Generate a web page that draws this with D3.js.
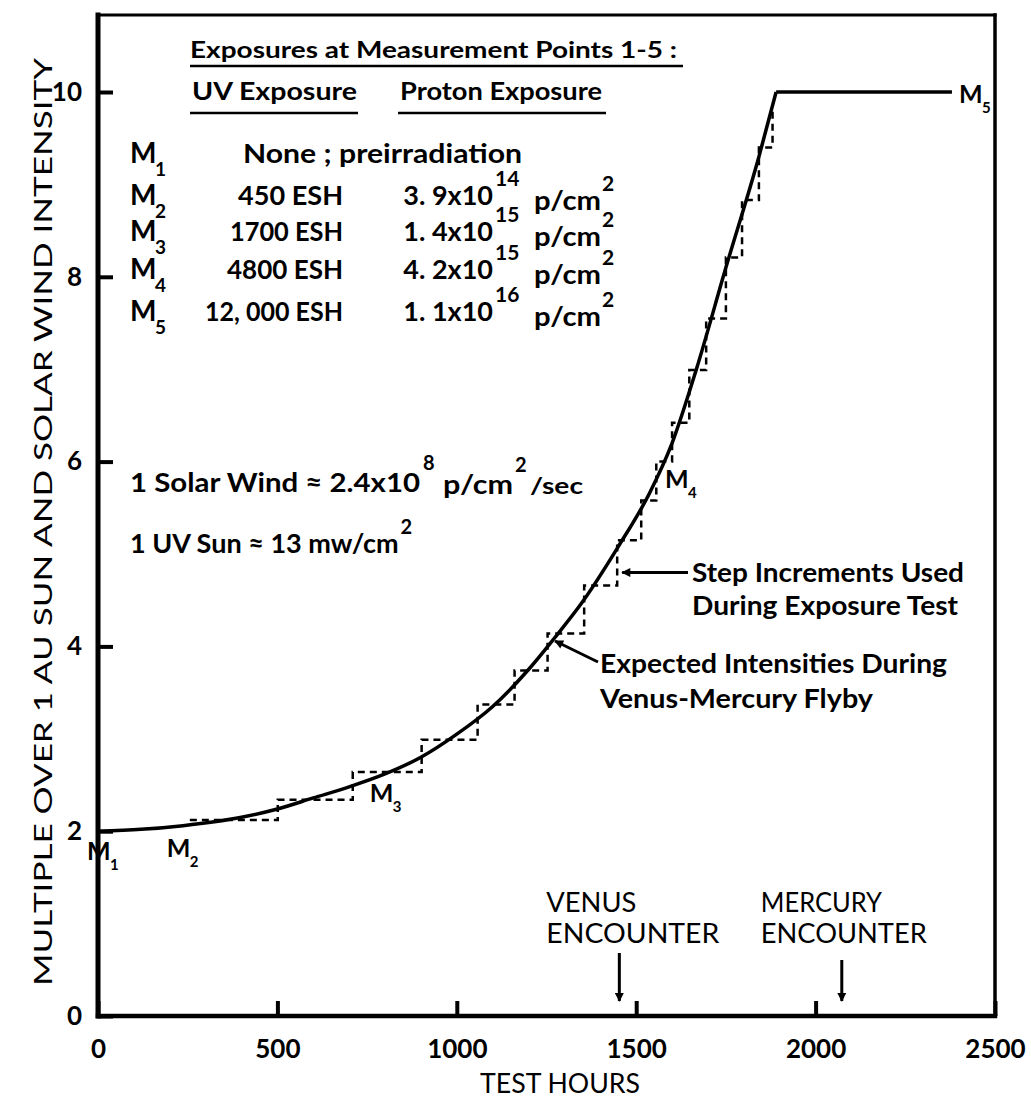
<!DOCTYPE html>
<html>
<head>
<meta charset="utf-8">
<script src="https://cdn.jsdelivr.net/npm/d3@7"></script>
<style>
  body { margin: 0; background: #fff; }
  svg { display: block; }
  text { font-family: Lato, "DejaVu Sans", sans-serif; fill: #000; }
</style>
</head>
<body>
<svg id="chart" width="1031" height="1104"></svg>
<script>
// ---------------- data ----------------
const xTicks = [0, 500, 1000, 1500, 2000, 2500];
const yTicks = [0, 2, 4, 6, 8, 10];

// expected intensity curve (test hours, multiple of 1 AU)
const curveHours  = [0, 120, 237, 400, 500, 600, 700, 800, 900, 1000, 1100, 1200, 1270, 1350, 1450, 1536, 1600, 1667, 1750, 1842, 1890];
const curveValues = [2.0, 2.02, 2.06, 2.15, 2.24, 2.36, 2.48, 2.62, 2.80, 3.05, 3.35, 3.75, 4.08, 4.48, 5.08, 5.65, 6.20, 6.99, 8.10, 9.30, 10.0];
const plateauHours  = [1890, 2380];
const plateauValues = [10.0, 10.0];

// step increments used during exposure test
const stepHours  = [256, 501, 710, 902, 1058, 1161, 1253, 1355, 1447, 1514, 1556, 1600, 1648, 1695, 1750, 1795, 1842, 1880];
const stepValues = [2.12, 2.34, 2.64, 2.99, 3.37, 3.74, 4.14, 4.66, 5.15, 5.58, 6.00, 6.42, 6.99, 7.55, 8.21, 8.83, 9.40, 9.80];

// measurement points
const markIds    = ["1", "2", "3", "4", "5"];
const markHours  = [0, 200, 760, 1580, 2380];
const markValues = [2.0, 2.05, 2.55, 5.95, 10.0];

// encounters
const encounterNames = ["VENUS", "MERCURY"];
const encounterHours = [1453, 2073];

// exposure table
const tableIds       = ["1", "2", "3", "4", "5"];
const tableUV        = ["None ; preirradiation", "450 ESH", "1700 ESH", "4800 ESH", "12, 000 ESH"];
const tableProtonMan = ["", "3. 9x10", "1. 4x10", "4. 2x10", "1. 1x10"];
const tableProtonExp = ["", "14", "15", "15", "16"];

// ---------------- chart ----------------
const svg = d3.select("#chart");
const x = d3.scaleLinear().domain([0, 2500]).range([98, 995]);
const y = d3.scaleLinear().domain([0, 10]).range([1016, 92]);
const yTop = 15;

// arrow marker
const defs = svg.append("defs");
defs.append("marker")
  .attr("id", "arr").attr("viewBox", "0 0 10 10")
  .attr("refX", 9).attr("refY", 5)
  .attr("markerWidth", 13).attr("markerHeight", 9)
  .attr("markerUnits", "userSpaceOnUse")
  .attr("orient", "auto")
  .append("path").attr("d", "M0,0 L10,5 L0,10 Z").attr("fill", "#000");

// axes
const xAxis = d3.axisBottom(x).tickValues(xTicks).tickSize(-15).tickPadding(24).tickFormat(d3.format("d"));
const yAxis = d3.axisLeft(y).tickValues(yTicks).tickSize(-15).tickPadding(16).tickFormat(d3.format("d"));

const gx = svg.append("g").attr("transform", `translate(0,${y(0)})`).call(xAxis);
const gy = svg.append("g").attr("transform", `translate(${x(0)},0)`).call(yAxis);
[gx, gy].forEach(g => {
  g.select(".domain").remove();
  g.selectAll(".tick line").attr("stroke", "#000").attr("stroke-width", 4);
  g.selectAll(".tick text").attr("font-size", 26).attr("font-weight", 700)
    .attr("font-family", "Lato, 'DejaVu Sans', sans-serif").attr("fill", "#000");
});

// frame
const frame = svg.append("g").attr("stroke", "#000").attr("fill", "none").attr("stroke-linecap", "square");
frame.append("line").attr("x1", x(0)).attr("x2", x(0)).attr("y1", yTop).attr("y2", y(0)).attr("stroke-width", 5);
frame.append("line").attr("x1", x(0)).attr("x2", x(2500)).attr("y1", y(0)).attr("y2", y(0)).attr("stroke-width", 4.5);
frame.append("line").attr("x1", x(0)).attr("x2", x(2500)).attr("y1", yTop).attr("y2", yTop).attr("stroke-width", 3);
frame.append("line").attr("x1", x(2500)).attr("x2", x(2500)).attr("y1", yTop).attr("y2", y(0)).attr("stroke-width", 3.5);

// step increments (dashed staircase)
const stepLine = d3.line().x(d => x(d[0])).y(d => y(d[1])).curve(d3.curveStepAfter);
svg.append("path")
  .datum(stepHours.map((h, i) => [h, stepValues[i]]))
  .attr("d", stepLine)
  .attr("fill", "none").attr("stroke", "#000").attr("stroke-width", 2.5)
  .attr("stroke-dasharray", "7 5");

// expected intensity curve
const smooth = d3.line().x(d => x(d[0])).y(d => y(d[1])).curve(d3.curveMonotoneX);
svg.append("path")
  .datum(curveHours.map((h, i) => [h, curveValues[i]]))
  .attr("d", smooth)
  .attr("fill", "none").attr("stroke", "#000").attr("stroke-width", 3.5);
const straight = d3.line().x(d => x(d[0])).y(d => y(d[1]));
svg.append("path")
  .datum(plateauHours.map((h, i) => [h, plateauValues[i]]))
  .attr("d", straight)
  .attr("fill", "none").attr("stroke", "#000").attr("stroke-width", 3.5);

// measurement point labels
const markOffsets = [[-11, 29], [-3, 30], [-1, 22], [0, 22], [7, 11]];
markIds.forEach((id, i) => {
  const px = x(markHours[i]) + markOffsets[i][0];
  const py = y(markValues[i]) + markOffsets[i][1];
  svg.append("text").attr("x", px).attr("y", py)
    .attr("font-size", 25).attr("font-weight", 700).text("M");
  svg.append("text").attr("x", px + 23).attr("y", py + 10)
    .attr("font-size", 15).attr("font-weight", 700).text(id);
});

// table header
const bold = sel => sel.attr("font-weight", 700);
svg.append("text").attr("x", 190).attr("y", 58).attr("font-size", 22)
  .attr("textLength", 487).attr("lengthAdjust", "spacingAndGlyphs")
  .call(bold).text("Exposures at Measurement Points 1-5 :");
svg.append("line").attr("x1", 190).attr("x2", 683).attr("y1", 66).attr("y2", 66)
  .attr("stroke", "#000").attr("stroke-width", 2.5);
svg.append("text").attr("x", 192).attr("y", 100).attr("font-size", 24)
  .attr("textLength", 165).attr("lengthAdjust", "spacingAndGlyphs")
  .call(bold).text("UV Exposure");
svg.append("line").attr("x1", 190).attr("x2", 358).attr("y1", 113).attr("y2", 113)
  .attr("stroke", "#000").attr("stroke-width", 2.5);
svg.append("text").attr("x", 400).attr("y", 100).attr("font-size", 24)
  .attr("textLength", 202).attr("lengthAdjust", "spacingAndGlyphs")
  .call(bold).text("Proton Exposure");
svg.append("line").attr("x1", 398).attr("x2", 606).attr("y1", 113).attr("y2", 113)
  .attr("stroke", "#000").attr("stroke-width", 2.5);

// table rows
const rowY = [163, 205, 241, 279, 321];
const uvWidths = [279, 105, 113, 116, 138];
tableIds.forEach((id, i) => {
  const by = rowY[i];
  svg.append("text").attr("x", 130).attr("y", by).attr("font-size", 28).call(bold).text("M");
  svg.append("text").attr("x", 155).attr("y", by + 13).attr("font-size", 19).call(bold).text(id);
  if (i === 0) {
    svg.append("text").attr("x", 243).attr("y", by).attr("font-size", 27)
      .attr("textLength", uvWidths[i]).attr("lengthAdjust", "spacingAndGlyphs")
      .call(bold).text(tableUV[i]);
  } else {
    svg.append("text").attr("x", 343 - uvWidths[i]).attr("y", by).attr("font-size", 27)
      .attr("textLength", uvWidths[i]).attr("lengthAdjust", "spacingAndGlyphs")
      .call(bold).text(tableUV[i]);
    svg.append("text").attr("x", 493).attr("y", by).attr("font-size", 27)
      .attr("text-anchor", "end").call(bold).text(tableProtonMan[i]);
    svg.append("text").attr("x", 495).attr("y", by - 19).attr("font-size", 21)
      .call(bold).text(tableProtonExp[i]);
    svg.append("text").attr("x", 534).attr("y", by + 5).attr("font-size", 26)
      .attr("textLength", 67).attr("lengthAdjust", "spacingAndGlyphs")
      .call(bold).text("p/cm");
    svg.append("text").attr("x", 602).attr("y", by - 14).attr("font-size", 21)
      .call(bold).text("2");
  }
});

// solar wind / UV sun definitions
svg.append("text").attr("x", 130).attr("y", 492).attr("font-size", 27)
  .attr("textLength", 290).attr("lengthAdjust", "spacingAndGlyphs")
  .call(bold).text("1 Solar Wind \u2248 2.4x10");
svg.append("text").attr("x", 423).attr("y", 470).attr("font-size", 20).call(bold).text("8");
svg.append("text").attr("x", 443).attr("y", 494).attr("font-size", 26)
  .attr("textLength", 70).attr("lengthAdjust", "spacingAndGlyphs").call(bold).text("p/cm");
svg.append("text").attr("x", 515).attr("y", 472).attr("font-size", 20).call(bold).text("2");
svg.append("text").attr("x", 530).attr("y", 494).attr("font-size", 22)
  .attr("textLength", 53).attr("lengthAdjust", "spacingAndGlyphs").call(bold).text("/sec");

const uvText = svg.append("text").attr("x", 130).attr("y", 553).attr("font-size", 27)
  .call(bold).text("1 UV Sun \u2248 13 mw/cm");
const uvW = uvText.node().getComputedTextLength();
svg.append("text").attr("x", 130 + uvW + 2).attr("y", 534).attr("font-size", 20).call(bold).text("2");

// step increments annotation
const stepAnchor = [x(1447) + 5, y(4.8)];
svg.append("line").attr("x1", 688).attr("y1", stepAnchor[1]).attr("x2", stepAnchor[0]).attr("y2", stepAnchor[1])
  .attr("stroke", "#000").attr("stroke-width", 3).attr("marker-end", "url(#arr)");
svg.append("text").attr("x", 692).attr("y", 582).attr("font-size", 27)
  .attr("textLength", 272).attr("lengthAdjust", "spacingAndGlyphs").call(bold).text("Step Increments Used");
svg.append("text").attr("x", 692).attr("y", 615).attr("font-size", 27)
  .attr("textLength", 266).attr("lengthAdjust", "spacingAndGlyphs").call(bold).text("During Exposure Test");

// expected intensities annotation
const curveAnchor = [x(1268), y(4.08)];
svg.append("line").attr("x1", 598).attr("y1", 662).attr("x2", curveAnchor[0] + 2).attr("y2", curveAnchor[1] + 2)
  .attr("stroke", "#000").attr("stroke-width", 3).attr("marker-end", "url(#arr)");
svg.append("text").attr("x", 600).attr("y", 673).attr("font-size", 27)
  .attr("textLength", 347).attr("lengthAdjust", "spacingAndGlyphs").call(bold).text("Expected Intensities During");
svg.append("text").attr("x", 600).attr("y", 708).attr("font-size", 27)
  .attr("textLength", 273).attr("lengthAdjust", "spacingAndGlyphs").call(bold).text("Venus-Mercury Flyby");

// encounters
const encLeft = [-73, -81];
const encW1 = [90, 121];
const encArrowTop = [953, 960];
encounterNames.forEach((name, i) => {
  const ex = x(encounterHours[i]);
  svg.append("text").attr("x", ex + encLeft[i]).attr("y", 912).attr("font-size", 27)
    .attr("textLength", encW1[i]).attr("lengthAdjust", "spacingAndGlyphs").text(name);
  svg.append("text").attr("x", ex + encLeft[i]).attr("y", 943).attr("font-size", 27)
    .attr("textLength", i === 0 ? 173 : 166).attr("lengthAdjust", "spacingAndGlyphs").text("ENCOUNTER");
  svg.append("line").attr("x1", ex).attr("x2", ex).attr("y1", encArrowTop[i]).attr("y2", y(0) - 15)
    .attr("stroke", "#000").attr("stroke-width", 3).attr("marker-end", "url(#arr)");
});

// axis titles
svg.append("text").attr("x", 560).attr("y", 1093).attr("font-size", 26)
  .attr("text-anchor", "middle").attr("textLength", 160).attr("lengthAdjust", "spacingAndGlyphs")
  .text("TEST HOURS");
svg.append("text")
  .attr("transform", "translate(52,522) rotate(-90)")
  .attr("font-size", 25).attr("text-anchor", "middle")
  .attr("textLength", 928).attr("lengthAdjust", "spacingAndGlyphs")
  .text("MULTIPLE OVER 1 AU SUN AND SOLAR WIND INTENSITY");
</script>
</body>
</html>
